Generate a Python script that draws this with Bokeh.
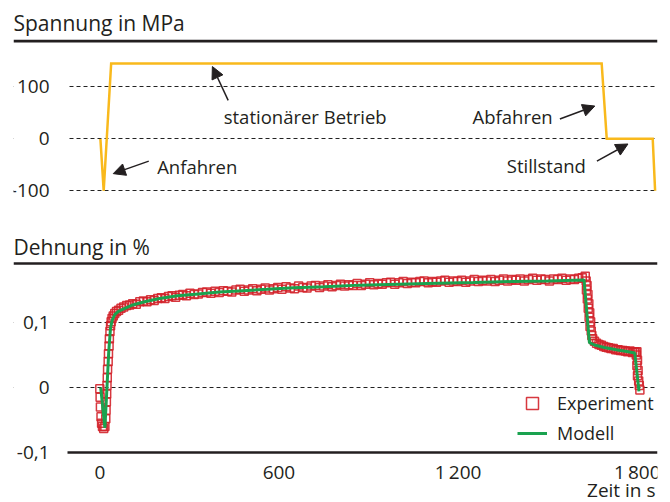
from bokeh.plotting import figure
from bokeh.layouts import column
from bokeh.models import (Range1d, FixedTicker, Label, Arrow, NormalHead,
                          Legend, LegendItem, Span, BoxAnnotation)
from bokeh.embed import file_html
from bokeh.resources import INLINE

FONT = "Open Sans"
TXT = "#231f20"
YELLOW = "#f9b91c"
GREEN = "#1aa24f"
RED = "#d3222a"

# ---------------- data ----------------
# stress (Spannung) in MPa over time in s
stress_t = [2, 13, 38, 1681, 1698, 1852, 1860]
stress_v = [0, -100, 145, 145, 0, 0, -100]

# model strain (Dehnung) in %
model_t = [3, 17, 24, 30, 36, 42, 50, 62, 80, 110, 150, 200, 260, 330, 400,
           480, 560, 650, 750, 870, 1000, 1130, 1250, 1380, 1500, 1622, 1640,
           1660, 1690, 1730, 1770, 1792, 1806]
model_e = [0.0, -0.062, 0.0, 0.056, 0.092, 0.104, 0.112, 0.117, 0.121, 0.127,
           0.132, 0.137, 0.141, 0.144, 0.147, 0.149, 0.151, 0.1535, 0.155,
           0.1575, 0.159, 0.1605, 0.1615, 0.163, 0.164, 0.1655, 0.069, 0.065,
           0.0615, 0.058, 0.055, 0.053, -0.006]

# experiment strain in %
exp_t = [0, 1, 2, 4, 6, 9, 13, 17, 20, 21, 22, 23, 24, 25, 26, 28, 29, 31, 32,
         34, 36, 38, 41, 45, 50, 56, 63, 71, 80, 90, 100,
         110, 122, 134, 146, 158, 170, 182, 194, 206, 218, 230, 242, 254, 266,
         278, 290, 302, 316, 330, 344, 358, 372, 386, 400, 414, 428, 442, 456,
         470, 484, 498, 512, 526, 540, 554, 568, 582, 596, 610, 624, 638, 652,
         666, 680, 694, 708, 722, 736, 750, 764, 778, 792, 806, 820, 834, 848,
         862, 876, 890, 904, 918, 932, 946, 960, 974, 988, 1002, 1016, 1030,
         1044, 1058, 1072, 1086, 1100, 1114, 1128, 1142, 1156, 1170, 1184,
         1198, 1212, 1226, 1240, 1254, 1268, 1282, 1296, 1310, 1324, 1338,
         1352, 1366, 1380, 1394, 1408, 1422, 1436, 1450, 1464, 1478, 1492,
         1506, 1520, 1534, 1548, 1562, 1576, 1590, 1604, 1616, 1626,
         1629, 1632, 1630, 1635, 1633, 1638, 1636, 1641, 1639, 1644, 1642,
         1646, 1648, 1651, 1657, 1664, 1672, 1680, 1688, 1696, 1704, 1712,
         1720, 1728, 1736, 1744, 1752, 1760, 1768, 1776, 1784, 1791,
         1796, 1799, 1797, 1801, 1799, 1803, 1801, 1805, 1807, 1809]
exp_e = [-0.002, -0.015, -0.03, -0.045, -0.055, -0.06, -0.063, -0.06, -0.048,
         -0.035, -0.022, -0.01, 0.003, 0.015, 0.028, 0.04, 0.052, 0.064,
         0.075, 0.086, 0.095, 0.101, 0.106, 0.11, 0.114, 0.117, 0.119, 0.122,
         0.124, 0.126, 0.127,
         0.129, 0.128, 0.132, 0.133, 0.132, 0.135, 0.134, 0.137, 0.138,
         0.137, 0.140, 0.141, 0.139, 0.142, 0.143, 0.141, 0.145, 0.143,
         0.144, 0.146, 0.147, 0.145, 0.148, 0.146, 0.149, 0.148, 0.147,
         0.150, 0.151, 0.148, 0.150, 0.152, 0.149, 0.151, 0.153, 0.150,
         0.152, 0.154, 0.151, 0.155, 0.153, 0.152, 0.156, 0.154, 0.153,
         0.156, 0.157, 0.154, 0.156, 0.158, 0.155, 0.157, 0.159, 0.156,
         0.158, 0.157, 0.160, 0.157, 0.159, 0.161, 0.158, 0.160, 0.159,
         0.161, 0.162, 0.159, 0.161, 0.163, 0.160, 0.162, 0.161, 0.163,
         0.164, 0.161, 0.163, 0.162, 0.164, 0.165, 0.162, 0.164, 0.163,
         0.165, 0.162, 0.164, 0.166, 0.163, 0.165, 0.164, 0.166, 0.163,
         0.165, 0.167, 0.164, 0.166, 0.165, 0.167, 0.164, 0.166, 0.168,
         0.165, 0.167, 0.166, 0.164, 0.167, 0.166, 0.168, 0.165, 0.167,
         0.166, 0.168, 0.169, 0.171,
         0.164, 0.157, 0.150, 0.143, 0.136, 0.129, 0.122, 0.115, 0.108,
         0.101, 0.094, 0.087, 0.080, 0.075, 0.071, 0.068, 0.066, 0.065,
         0.063, 0.062, 0.061, 0.060, 0.060, 0.058, 0.058, 0.057, 0.057,
         0.056, 0.055, 0.056, 0.054, 0.055, 0.054, 0.055,
         0.050, 0.042, 0.034, 0.026, 0.018, 0.010, 0.003, -0.004, 0.001,
         -0.006]

# ticks
x_ticks = [0, 600, 1200, 1800]
x_labels = ["0", "600", "1\u2009200", "1\u2009800"]
s_ticks = [-100, 0, 100]
s_labels = ["-100", "0", "100"]
e_ticks = [-0.1, 0, 0.1]
e_labels = ["-0,1", "0", "0,1"]

# annotations in the stress panel
notes = ["stationärer Betrieb", "Anfahren", "Abfahren", "Stillstand"]
note_x = [415, 192, 1517, 1628]
note_y = [42, -53, 42, -52]
note_align = ["left", "left", "right", "right"]
arrow_x0 = [430, 164, 1541, 1665]
arrow_y0 = [74, -43, 38, -43]
arrow_x1 = [377, 45, 1658, 1769]
arrow_y1 = [139, -67, 63, -10]

# layout constants (styling)
X_RANGE = (-289.1, 1868)
AXIS_T = -108          # where the value axis and the dashed grid begin


def base_fig(frame_h, y_range, panel_title, title_y, rule_y, ticks, labels,
             grid_ticks):
    p = figure(frame_width=644, frame_height=frame_h, min_border_left=13,
               min_border_right=13, min_border_top=0, min_border_bottom=0,
               x_range=Range1d(*X_RANGE), y_range=Range1d(*y_range),
               toolbar_location=None, output_backend="svg",
               outline_line_color=None, background_fill_color="white",
               border_fill_color="white")
    ya = p.yaxis[0]
    ya.fixed_location = AXIS_T
    ya.ticker = FixedTicker(ticks=ticks)
    ya.major_label_overrides = dict(zip(ticks, labels))
    ya.axis_line_color = None
    ya.major_tick_line_color = None
    ya.minor_tick_line_color = None
    ya.major_label_standoff = 12
    ya.major_label_text_font = FONT
    ya.major_label_text_font_size = "19px"
    ya.major_label_text_color = TXT
    p.xgrid.grid_line_color = None
    p.ygrid.ticker = FixedTicker(ticks=grid_ticks)
    p.ygrid.grid_line_color = "#222222"
    p.ygrid.grid_line_width = 1
    p.ygrid.grid_line_dash = "4 3"
    p.ygrid.level = "image"
    # keep the dashed grid to the right of the value axis
    p.add_layout(BoxAnnotation(right=AXIS_T, fill_color="white",
                               fill_alpha=1, line_color=None,
                               level="underlay"))
    # panel heading and rule
    p.add_layout(Label(x=0, x_units="screen", y=title_y, text=panel_title,
                       text_align="left", text_baseline="middle",
                       text_font=FONT, text_font_size="21px",
                       text_color=TXT))
    p.add_layout(Span(location=rule_y, dimension="width", line_color=TXT,
                      line_width=2.7))
    return p


# ---------------- top: stress ----------------
p1 = base_fig(204, (-126.35, 265.96), "Spannung in MPa", 223.3, 187.7,
              s_ticks, s_labels, s_ticks)
p1.xaxis.visible = False
p1.line(stress_t, stress_v, line_color=YELLOW, line_width=2.5,
        line_join="miter")

for txt, x, y, al in zip(notes, note_x, note_y, note_align):
    p1.add_layout(Label(x=x, y=y, text=txt, text_align=al,
                        text_baseline="middle", text_font=FONT,
                        text_font_size="18.5px", text_color=TXT))
for x0, y0, x1, y1 in zip(arrow_x0, arrow_y0, arrow_x1, arrow_y1):
    p1.add_layout(Arrow(x_start=x0, y_start=y0, x_end=x1, y_end=y1,
                        line_color=TXT, line_width=1.5,
                        end=NormalHead(size=12, fill_color=TXT,
                                       line_color=TXT, line_width=1)))

# ---------------- bottom: strain ----------------
p2 = base_fig(298, (-0.17692, 0.28154), "Dehnung in %", 0.21615, 0.19077,
              e_ticks, e_labels, [0, 0.1])
xa = p2.xaxis[0]
xa.fixed_location = -0.1
xa.ticker = FixedTicker(ticks=x_ticks)
xa.major_label_overrides = dict(zip(x_ticks, x_labels))
xa.bounds = (AXIS_T, X_RANGE[1])
xa.axis_line_color = TXT
xa.axis_line_width = 2.5
xa.major_tick_line_color = None
xa.minor_tick_line_color = None
xa.major_label_standoff = 0
xa.major_label_text_font = FONT
xa.major_label_text_font_size = "19px"
xa.major_label_text_color = TXT

p2.add_layout(Label(x=642, y=13, x_units="screen", y_units="screen",
                    text="Zeit in s", text_align="right",
                    text_baseline="middle", text_font=FONT,
                    text_font_size="19px", text_color=TXT))

sq = p2.scatter(exp_t, exp_e, marker="square", size=8, fill_color=None,
                line_color=RED, line_width=1.5, line_alpha=0.9)
ln = p2.line(model_t, model_e, line_color=GREEN, line_width=3)

legend = Legend(items=[LegendItem(label="Experiment", renderers=[sq]),
                       LegendItem(label="Modell", renderers=[ln])],
                location=(504, 54), orientation="vertical", glyph_width=30,
                glyph_height=30, label_height=30, spacing=-10, padding=0,
                margin=0, border_line_color=None, background_fill_alpha=0,
                label_standoff=10, label_text_font=FONT,
                label_text_font_size="18px", label_text_color=TXT)
p2.add_layout(legend)

layout = column(p1, p2)
open("out.html", "w").write(file_html(layout, INLINE))
